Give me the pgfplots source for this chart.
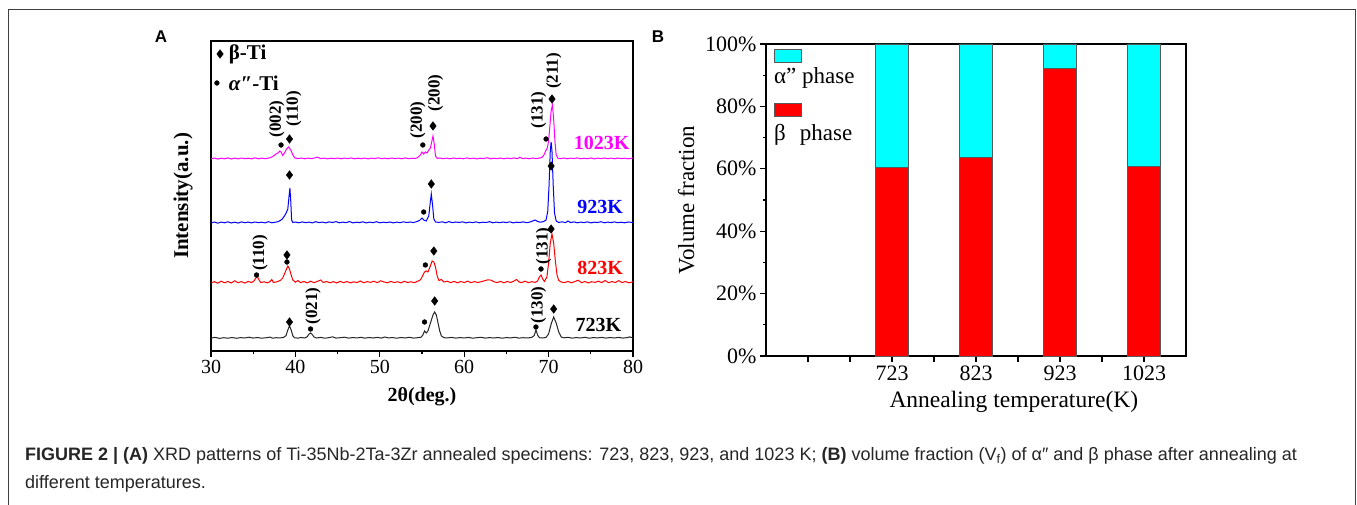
\documentclass[border=0pt]{standalone}
\usepackage{pgfplots}
\pgfplotsset{compat=1.18}
\usepackage{fontspec}
\setmainfont{Liberation Serif}
\newfontfamily\capfont{Liberation Sans}
\definecolor{magA}{RGB}{255,0,255}
\definecolor{bluA}{RGB}{0,0,255}
\definecolor{redA}{RGB}{255,0,0}
\definecolor{cyanB}{RGB}{0,255,255}
\begin{document}
\begin{tikzpicture}[x=1pt,y=1pt]
\path[use as bounding box] (0,0) rectangle (1357,505);
\fill[white] (0,0) rectangle (1357,505);
\draw[black!75, line width=1pt] (8,-3) -- (8,495) -- (1355,495) -- (1355,-3);
\node[font=\capfont\bfseries\fontsize{17}{17}\selectfont] at (161,468) {A};
\node[font=\capfont\bfseries\fontsize{17}{17}\selectfont] at (658,468) {B};
% caption
\node[anchor=west, inner sep=0, font=\capfont\fontsize{18}{18}\selectfont, text=black!85] at (25,49) {\textbf{FIGURE 2 | (A)} XRD patterns of Ti-35Nb-2Ta-3Zr annealed specimens: 723, 823, 923, and 1023 K; \textbf{(B)} volume fraction (V\textsubscript{f}) of α″ and β phase after annealing at};
\node[anchor=west, inner sep=0, font=\capfont\fontsize{18}{18}\selectfont, text=black!85] at (25,21) {different temperatures.};

% ---------------- Panel A ----------------
\begin{axis}[at={(211pt,154pt)}, anchor=south west, scale only axis,
  width=422pt, height=310pt,
  xmin=30, xmax=80, ymin=0, ymax=310,
  xtick={30,40,...,80}, minor x tick num=1, ytick=\empty,
  xtick pos=bottom, tick align=outside,
  major tick length=6pt, minor tick length=3.5pt,
  axis line style={line width=1.4pt}, tick style={line width=1.2pt, black},
  tick label style={font=\fontsize{20}{20}\selectfont},
  /pgf/number format/assume math mode=true,
  xlabel={\textbf{2θ(deg.)}},
  xlabel style={at={(axis description cs:0.5,-0.148)}, anchor=center, font=\fontsize{20}{20}\selectfont},
  ylabel={\textbf{Intensity(a.u.)}},
  ylabel style={at={(axis description cs:-0.066,0.5)}, anchor=center, font=\fontsize{21}{21}\selectfont},
  clip=false]
% 1023K
\addplot[magA, line width=1pt] coordinates {
(30,192) (30.4,193) (30.8,191.9) (31.2,192.8) (31.6,192.2) (32,193.1) (32.4,192) (32.8,192.9) (33.2,192.1) (33.6,193) (34,192.3) (34.4,192.8) (34.8,192.1) (35.2,193.2) (35.6,192.2) (36,192.9) (36.4,192.3) (36.8,192.9) (37.1,193.5) (37.4,195) (37.7,197) (37.95,198) (38.15,200) (38.3,199) (38.5,195.5) (38.7,198) (38.95,202) (39.2,204) (39.45,201) (39.7,196) (39.95,193) (40.3,192.4) (40.7,193) (41.1,192.2) (41.5,192.9) (41.9,192.3) (42.3,193.1) (42.6,193.8) (43.0,192.4) (43.4,192.9) (43.8,192.1) (44.2,192.8) (44.6,192.3) (45,193) (45.4,192.2) (45.8,192.9) (46.2,192.4) (46.6,193.1) (47,192.2) (47.4,192.8) (47.8,192.3) (48.2,193) (48.6,192.1) (49,192.9) (49.4,192.4) (49.8,193.2) (50.2,192.3) (50.6,192.8) (51,192.2) (51.4,193) (51.8,192.4) (52.2,192.9) (52.6,192.2) (53,193.1) (53.4,192.3) (53.8,192.8) (54.2,192.5) (54.5,193.5) (54.8,196) (55.0,199) (55.2,197) (55.4,199) (55.6,198) (55.8,201) (56.0,203) (56.15,209) (56.3,215) (56.45,207) (56.6,195) (56.8,192.5) (57.1,193) (57.5,192.3) (57.9,192.9) (58.3,192.2) (58.7,193) (59.1,192.4) (59.5,192.8) (59.9,192.2) (60.3,193.1) (60.7,192.3) (61.1,192.9) (61.5,192.1) (61.9,192.8) (62.3,192.4) (62.7,193.3) (63.1,192.2) (63.5,192.8) (63.9,192.3) (64.3,193) (64.7,192.2) (65.1,192.9) (65.5,192.4) (65.9,193.1) (66.3,192.3) (66.6,193.8) (66.9,192.4) (67.3,192.9) (67.7,192.2) (68.1,193) (68.5,192.4) (68.9,192.9) (69.2,193.5) (69.45,196) (69.65,200) (69.85,203) (70.0,210) (70.15,225) (70.3,240) (70.45,246) (70.6,232) (70.75,210) (70.9,196) (71.1,192.8) (71.4,192.3) (71.8,193) (72.2,192.2) (72.6,192.9) (73,192.4) (73.4,193.1) (73.8,192.2) (74.2,192.8) (74.6,192.3) (75,193) (75.4,192.1) (75.8,192.9) (76.2,192.4) (76.6,193) (77,192.3) (77.4,192.9) (77.8,192.2) (78.2,193) (78.6,192.4) (79,192.8) (79.4,192.2) (80,192.9)};
% 923K
\addplot[bluA, line width=1pt] coordinates {
(30,128) (30.4,129) (30.8,127.8) (31.2,128.9) (31.6,128.2) (32,129.2) (32.4,128) (32.8,128.8) (33.2,127.9) (33.6,129.1) (34,128.3) (34.4,128.9) (34.8,128.1) (35.2,129) (35.6,128.4) (36,128.8) (36.4,128.1) (36.8,129.3) (37.2,128.2) (37.6,128.7) (38.0,129.5) (38.4,131.5) (38.7,135) (38.9,138) (39.1,142) (39.25,155) (39.35,163) (39.45,150) (39.55,131) (39.7,128.5) (40,129) (40.4,128.2) (40.8,129.1) (41.2,128.3) (41.6,128.9) (42.0,128.1) (42.4,129.3) (42.8,128.4) (43.2,128.9) (43.6,128.1) (44,129.1) (44.4,128.5) (44.8,129.4) (45.2,128.2) (45.6,128.9) (46.0,128.3) (46.4,129.5) (46.8,128.1) (47.2,128.8) (47.6,128.4) (48.0,129.2) (48.4,128.1) (48.8,128.9) (49.2,128.3) (49.6,129.3) (50.0,128.2) (50.4,128.8) (50.8,128.4) (51.2,129) (51.6,128.1) (52,128.9) (52.4,128.3) (52.8,129.2) (53.2,128.5) (53.6,129) (54.0,128.4) (54.4,129.5) (54.7,130.5) (55.0,133) (55.2,131) (55.5,130) (55.8,135) (56.0,150) (56.1,157) (56.25,146) (56.4,132) (56.6,129) (57,128.6) (57.4,129.2) (57.8,128.2) (58.2,129.4) (58.6,128.3) (59,129) (59.4,128.5) (59.8,129.2) (60.2,128.1) (60.6,128.9) (61,128.4) (61.4,129.1) (61.8,128.2) (62.2,128.8) (62.6,128.5) (63,129.3) (63.4,128.2) (63.8,128.9) (64.2,128.3) (64.6,129) (65,128.4) (65.4,129.2) (65.8,128.1) (66.2,128.8) (66.6,128.5) (67,129.1) (67.4,128.3) (67.8,129) (68.1,130) (68.4,131) (68.7,129.5) (69.0,128.8) (69.4,129.4) (69.7,131) (69.9,140) (70.05,165) (70.2,200) (70.3,209) (70.4,200) (70.55,165) (70.7,138) (70.9,130) (71.2,128.5) (71.6,129.2) (72.0,128.3) (72.3,130) (72.6,128.4) (73,129.1) (73.4,128.2) (73.8,128.9) (74.2,128.4) (74.6,129.2) (75,128.1) (75.4,128.8) (75.8,128.5) (76.2,129.3) (76.6,128.2) (77,128.9) (77.4,128.4) (77.8,129.1) (78.2,128.3) (78.6,128.8) (79,128.2) (79.4,129) (80,128.5)};
% 823K
\addplot[redA, line width=1pt] coordinates {
(30,68) (30.4,69.3) (30.8,67.8) (31.2,69.8) (31.6,68.2) (32,69.5) (32.4,68) (32.8,70.2) (33.2,68.3) (33.6,69.4) (34,67.9) (34.4,69.6) (34.8,68.4) (35.1,70) (35.3,73) (35.5,74) (35.7,71) (35.9,68.5) (36.3,69.2) (36.7,68.1) (37.0,69.5) (37.2,71.5) (37.4,68.5) (37.8,69.2) (38.2,70.5) (38.5,73) (38.8,79) (39.1,85) (39.3,82) (39.5,76) (39.7,71) (40.0,68.8) (40.3,70.5) (40.6,68.4) (41.0,69.5) (41.4,68.1) (41.8,69.8) (42.2,68.3) (42.6,69.6) (43.0,71) (43.3,68.5) (43.7,69.5) (44.1,68.2) (44.5,69.4) (44.9,68) (45.3,69.7) (45.7,68.3) (46.1,69.5) (46.5,68.1) (46.9,69.2) (47.3,68.4) (47.7,70) (48.1,68.2) (48.5,69.4) (48.9,68.6) (49.3,69.8) (49.7,68.3) (50.1,70.2) (50.5,69) (50.9,68.2) (51.3,69.6) (51.7,68.4) (52.1,69.3) (52.5,68.1) (52.9,69.7) (53.3,68.5) (53.7,69.2) (54.1,68.3) (54.5,69.8) (54.8,71) (55.0,74) (55.3,79) (55.5,80) (55.7,79) (55.9,83) (56.2,90) (56.4,89) (56.6,84) (56.8,75) (57.0,70.5) (57.3,71.5) (57.6,69) (58.0,69.8) (58.4,68.3) (58.8,69.6) (59.2,68.2) (59.6,69.5) (60,68.4) (60.4,69.9) (60.8,68.3) (61.2,69.4) (61.6,68.5) (62.0,69.3) (62.4,70.2) (62.8,71.2) (63.2,70.8) (63.5,69.3) (63.9,68.4) (64.3,69.6) (64.7,68.2) (65.1,69.5) (65.5,68.5) (65.9,70) (66.2,71.5) (66.5,69) (66.8,68.3) (67.2,69.8) (67.6,68.4) (68.0,69.3) (68.4,68.6) (68.7,70) (68.9,74) (69.1,76) (69.3,72) (69.5,69.5) (69.8,74) (70.0,88) (70.2,108) (70.4,117) (70.6,108) (70.8,90) (71.0,76) (71.2,70.5) (71.5,69) (71.9,68.4) (72.3,69.6) (72.7,68.2) (73.1,69.4) (73.5,70.8) (73.9,68.3) (74.3,69.5) (74.7,68.1) (75.1,69.3) (75.5,68.6) (75.9,69.8) (76.3,68.4) (76.7,70.5) (77.1,68.3) (77.5,69.4) (77.9,68.5) (78.3,70.3) (78.7,68.4) (79.1,69.5) (79.5,68.2) (80,69.2)};
% 723K
\addplot[black!85, line width=1pt] coordinates {
(30,13) (30.5,13.6) (31,12.6) (31.5,13.3) (32,12.8) (32.5,13.5) (33,12.7) (33.5,13.4) (34,13.0) (34.5,13.8) (35,12.9) (35.5,13.5) (36,12.8) (36.5,13.2) (37,13.9) (37.3,12.8) (37.7,13.3) (38.2,13.1) (38.6,13.6) (38.9,15.5) (39.1,21) (39.3,25) (39.5,21) (39.7,15) (39.9,13.2) (40.3,12.9) (40.7,13.5) (41.1,13.0) (41.4,14.2) (41.6,16.8) (41.8,18) (42.0,16.5) (42.2,14) (42.5,13) (43,13.6) (43.5,12.8) (44,13.4) (44.4,14.2) (44.8,12.9) (45.3,13.3) (45.8,13.8) (46.3,12.9) (46.8,13.4) (47.3,13.1) (47.8,13.7) (48.2,12.8) (48.7,13.5) (49.2,13.0) (49.7,13.6) (50.2,12.9) (50.6,14.0) (51,13.1) (51.5,13.4) (52,12.8) (52.5,13.5) (53,13.0) (53.5,13.7) (54,12.9) (54.5,13.3) (54.9,13.8) (55.1,16) (55.3,20) (55.5,18) (55.7,20) (56.0,28) (56.3,36) (56.5,39) (56.7,36) (56.9,28) (57.1,20) (57.3,15) (57.6,13.3) (58,13.1) (58.5,13.6) (59,12.9) (59.5,13.4) (60,13.0) (60.5,13.6) (61,12.8) (61.5,13.3) (62,13.7) (62.5,12.9) (63,13.4) (63.5,13.0) (64,13.5) (64.5,12.8) (65,13.4) (65.5,13.1) (66,13.7) (66.5,12.9) (67,13.3) (67.5,13.0) (68,13.6) (68.3,15.5) (68.5,21) (68.7,16) (68.9,13.3) (69.3,13.0) (69.7,13.6) (70.0,17) (70.3,27) (70.6,34) (70.9,28) (71.2,19) (71.5,14) (71.8,13.2) (72.3,13.6) (72.8,12.9) (73.3,13.4) (73.8,13.0) (74.3,13.7) (74.8,12.8) (75.3,13.4) (75.8,13.1) (76.3,13.6) (76.8,12.9) (77.3,13.5) (77.8,13.0) (78.3,13.6) (78.8,12.9) (79.3,13.4) (79.6,14.1) (80,13.0)};
% beta markers (diamonds)
\addplot[only marks, mark=diamond*, mark size=4.3pt, black] coordinates {
(39.3,212) (56.3,225) (70.4,252) (39.3,176) (56.1,167) (70.3,185)
(39.0,96) (56.4,100) (70.3,122) (39.3,29) (56.5,50) (70.6,42) (31.07,297)};
% alpha'' markers (dots)
\addplot[only marks, mark=*, mark size=2.4pt, black] coordinates {
(38.3,206) (55.1,206) (69.7,212) (55.2,139) (35.4,76) (39.0,89) (55.4,86) (69.1,82)
(41.8,22) (55.3,29) (68.5,24) (30.7,268)};
% legend text
\node[anchor=west, font=\bfseries\fontsize{21}{21}\selectfont] at (axis cs:31.7,297) {β-Ti};
\node[anchor=west, font=\bfseries\fontsize{21}{21}\selectfont] at (axis cs:31.7,268) {\textit{α}″-Ti};
% peak labels
\begin{scope}[every node/.style={rotate=90, font=\bfseries\fontsize{17}{17}\selectfont, inner sep=0}]
\node at (axis cs:37.8,232) {(002)};
\node at (axis cs:39.8,242) {(110)};
\node at (axis cs:54.5,231) {(200)};
\node at (axis cs:56.6,258) {(200)};
\node at (axis cs:68.8,241) {(131)};
\node at (axis cs:70.6,280) {(211)};
\node at (axis cs:35.8,98) {(110)};
\node at (axis cs:69.4,105) {(131)};
\node at (axis cs:42.1,45) {(021)};
\node at (axis cs:68.8,46) {(130)};
\end{scope}
% temperature labels
\node[font=\bfseries\fontsize{20}{20}\selectfont, text=magA] at (axis cs:76.3,208) {1023K};
\node[font=\bfseries\fontsize{20}{20}\selectfont, text=bluA] at (axis cs:76.1,144) {923K};
\node[font=\bfseries\fontsize{20}{20}\selectfont, text=redA] at (axis cs:76.1,83) {823K};
\node[font=\bfseries\fontsize{20}{20}\selectfont, text=black] at (axis cs:75.9,26) {723K};
\end{axis}

% ---------------- Panel B ----------------
\begin{axis}[at={(766pt,149pt)}, anchor=south west, scale only axis,
  width=420pt, height=312pt,
  xmin=573, xmax=1073, ymin=0, ymax=100,
  ybar stacked, bar width=33pt,
  xtick={623,673,...,1023},
  xticklabels={,,723,,823,,923,,1023},
  ytick={0,20,...,100}, minor y tick num=1,
  yticklabels={0\%,20\%,40\%,60\%,80\%,100\%},
  xtick pos=bottom, ytick pos=left, tick align=outside,
  major tick length=6pt, minor tick length=3.5pt,
  axis line style={line width=1.4pt}, tick style={line width=1.2pt, black},
  tick label style={font=\fontsize{22}{22}\selectfont},
  xlabel={Annealing temperature(K)},
  xlabel style={at={(axis description cs:0.59,-0.147)}, anchor=center, font=\fontsize{23.5}{23.5}\selectfont},
  ylabel={Volume fraction},
  ylabel style={at={(axis description cs:-0.19,0.5)}, anchor=center, font=\fontsize{23}{23}\selectfont},
  clip=false]
\addplot[fill=redA, draw=gray!70!black, line width=0.6pt] coordinates {(723,60.4) (823,63.6) (923,92.3) (1023,60.7)};
\addplot[fill=cyanB, draw=gray!70!black, line width=0.6pt] coordinates {(723,39.6) (823,36.4) (923,7.7) (1023,39.3)};
\node[draw=gray!70!black, fill=cyanB, minimum width=27pt, minimum height=13pt, inner sep=0, anchor=north west] at (axis cs:582.5,98.4) {};
\node[anchor=west, inner sep=0, font=\fontsize{23}{23}\selectfont] at (axis cs:582.5,89.1) {α\char"0022\ phase};
\node[draw=gray!70!black, fill=redA, minimum width=27pt, minimum height=13pt, inner sep=0, anchor=north west] at (axis cs:582.5,81.1) {};
\node[anchor=west, inner sep=0, font=\fontsize{23}{23}\selectfont] at (axis cs:582.5,70.8) {β\hspace{14pt}phase};
\end{axis}
\end{tikzpicture}
\end{document}
